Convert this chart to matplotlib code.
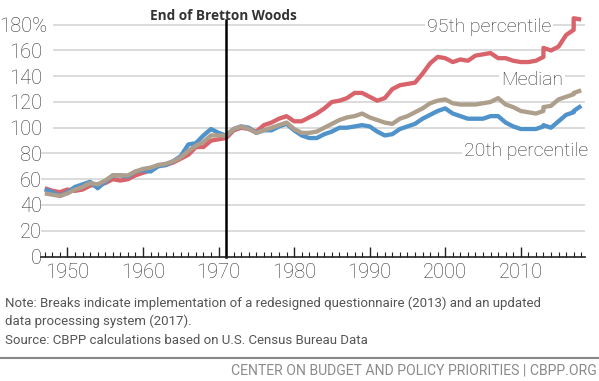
import matplotlib
matplotlib.use("Agg")
import matplotlib.pyplot as plt
from matplotlib.ticker import MultipleLocator, FixedLocator
from matplotlib.transforms import ScaledTranslation

W, H = 599, 381
DPI = 100

# ---------------- data ----------------
years_a = list(range(1947, 2014))          # old questionnaire 1947-2013
years_b = [2013, 2014, 2015, 2016, 2017]   # redesigned questionnaire
years_c = [2017, 2018]                     # updated processing system

p95_a = [53, 51, 50, 52, 51, 52, 55, 56, 57, 60,
         59, 60, 63, 65, 67, 71, 71, 73, 76, 79,
         85, 85, 90, 91, 92, 98, 100, 99, 97, 102,
         104, 107, 109, 105, 105, 108, 111, 115, 120, 121,
         123, 127, 127, 124, 121, 123, 130, 133, 134, 135,
         142, 150, 155, 154, 151, 153, 152, 156, 157, 158,
         154, 154, 152, 151, 151, 152, 155]
p95_b = [162, 160, 163, 172, 176]
p95_c = [185, 184]

med_a = [49, 48, 47, 49, 52, 54, 57, 56, 59, 63,
         63, 63, 66, 68, 69, 71, 72, 74, 77, 82,
         86, 89, 94, 94, 94, 99, 101, 99, 96, 98,
         100, 102, 104, 99, 96, 96, 97, 100, 103, 106,
         108, 109, 111, 108, 106, 104, 103, 107, 109, 112,
         115, 119, 121, 122, 119, 118, 118, 118, 119, 120,
         123, 118, 116, 113, 112, 111, 113]
med_b = [116, 117, 122, 124, 126]
med_c = [127, 129]

p20_a = [52, 50, 47, 50, 54, 56, 58, 53, 58, 63,
         63, 62, 66, 67, 66, 70, 71, 74, 78, 87,
         88, 94, 99, 96, 94, 99, 101, 100, 96, 98,
         98, 101, 103, 98, 94, 92, 92, 95, 97, 100,
         100, 101, 102, 101, 97, 94, 95, 99, 101, 103,
         107, 110, 113, 115, 111, 109, 107, 107, 107, 109,
         109, 104, 101, 99, 99, 99, 101]
p20_b = [102, 100, 105, 110, 112]
p20_c = [113, 117]

bretton_year = 1971
y_ticks = [0, 20, 40, 60, 80, 100, 120, 140, 160, 180]
y_tick_labels = ["0", "20", "40", "60", "80", "100", "120", "140", "160", "180%"]
x_ticks = [1950, 1960, 1970, 1980, 1990, 2000, 2010]

# ---------------- style ----------------
RED = "#d8636a"
BLUE = "#4f93ca"
TAN = "#ae9f8c"
GRID = "#d9d9d9"
TXT = "#333333"
FONT = ["Roboto", "DejaVu Sans"]

fig = plt.figure(figsize=(W / DPI, H / DPI), dpi=DPI)
fig.patch.set_facecolor("white")

ax_l, ax_r = 41 / W, 585 / W
ax_b = 1 - 256.5 / H
ax_t = 1 - 14.4 / H
ax = fig.add_axes([ax_l, ax_b, ax_r - ax_l, ax_t - ax_b])
ax.set_xlim(1946.5, 2018.5)
ax.set_ylim(0, 188)

# gridlines
for v in y_ticks[1:]:
    xmin = 0.024 if v >= 100 else 0.0
    ax.axhline(v, xmin=xmin, xmax=1, color=GRID, lw=1.3, zorder=1)

lw = 3.1
years_all = years_a + years_b + years_c
for vals, col, z in [
    (p95_a + p95_b + p95_c, RED, 3),
    (p20_a + p20_b + p20_c, BLUE, 4),
    (med_a + med_b + med_c, TAN, 5),
]:
    ax.plot(years_all, vals, color=col, lw=lw, solid_joinstyle="round",
            solid_capstyle="butt", zorder=z)

# Bretton Woods line
ax.axvline(bretton_year, ymin=0, ymax=0.977, color="black", lw=1.8, zorder=6,
           clip_on=False)

# axes styling
for s in ["top", "right", "left"]:
    ax.spines[s].set_visible(False)
ax.spines["bottom"].set_color("#222222")
ax.spines["bottom"].set_linewidth(1.2)
ax.spines["bottom"].set_zorder(7)

ax.xaxis.set_major_locator(FixedLocator(x_ticks))
ax.xaxis.set_minor_locator(MultipleLocator(1))
ax.tick_params(axis="x", which="major", direction="in", length=7, width=1.0,
               color="#222222", pad=5, labelsize=14.5, labelcolor=TXT)
ax.tick_params(axis="x", which="minor", direction="in", length=3.5, width=0.8,
               color="#222222")
ax.set_yticks(y_ticks)
ax.set_yticklabels(y_tick_labels)
ax.tick_params(axis="y", length=0, pad=0, labelsize=14.5, labelcolor=TXT)
for lab in ax.get_yticklabels():
    lab.set_horizontalalignment("right")
for lab in ax.get_xticklabels() + ax.get_yticklabels():
    lab.set_family(FONT)
    lab.set_fontweight("light")
for lab in ax.get_yticklabels():
    lab.set_transform(lab.get_transform() + ScaledTranslation(1 / DPI, 0, fig.dpi_scale_trans))
ax.get_yticklabels()[-1].set_transform(
    ax.get_yticklabels()[-1].get_transform() + ScaledTranslation(5 / DPI, 0, fig.dpi_scale_trans))

# series labels with white boxes
bbox = dict(facecolor="white", edgecolor="none", pad=1.5)
def px(x, y):
    return x / W, 1 - y / H

fig.text(*px(489, 27), "95th percentile", ha="center", va="center",
         fontsize=14, color=TXT, family=FONT, fontweight="light", bbox=bbox, zorder=10)
fig.text(*px(532, 80), "Median", ha="center", va="center",
         fontsize=14, color=TXT, family=FONT, fontweight="light", bbox=bbox, zorder=10)
fig.text(*px(526, 151), "20th percentile", ha="center", va="center",
         fontsize=14, color=TXT, family=FONT, fontweight="light", bbox=bbox, zorder=10)

fig.text(*px(223, 15.5), "End of Bretton Woods", ha="center", va="center",
         fontsize=9.8, color="#333333", family=["Open Sans", "DejaVu Sans"],
         fontweight="bold")

# footer
FOOT = "#555555"
fig.text(*px(5, 303), "Note: Breaks indicate implementation of a redesigned questionnaire (2013) and an updated",
         ha="left", va="center", fontsize=9.5, color=FOOT, family=FONT)
fig.text(*px(5, 321), "data processing system (2017).",
         ha="left", va="center", fontsize=9.5, color=FOOT, family=FONT)
fig.text(*px(5, 341), "Source: CBPP calculations based on U.S. Census Bureau Data",
         ha="left", va="center", fontsize=9.5, color=FOOT, family=FONT)
fig.add_artist(plt.Line2D([0, 1], [1 - 358 / H, 1 - 358 / H], color="#888888", lw=1.5,
                          transform=fig.transFigure))
fig.text(*px(597, 371), "CENTER ON BUDGET AND POLICY PRIORITIES | CBPP.ORG",
         ha="right", va="center", fontsize=10.1, color="#8a8a8a", family=FONT)

fig.savefig("out.png", dpi=DPI, facecolor="white")
